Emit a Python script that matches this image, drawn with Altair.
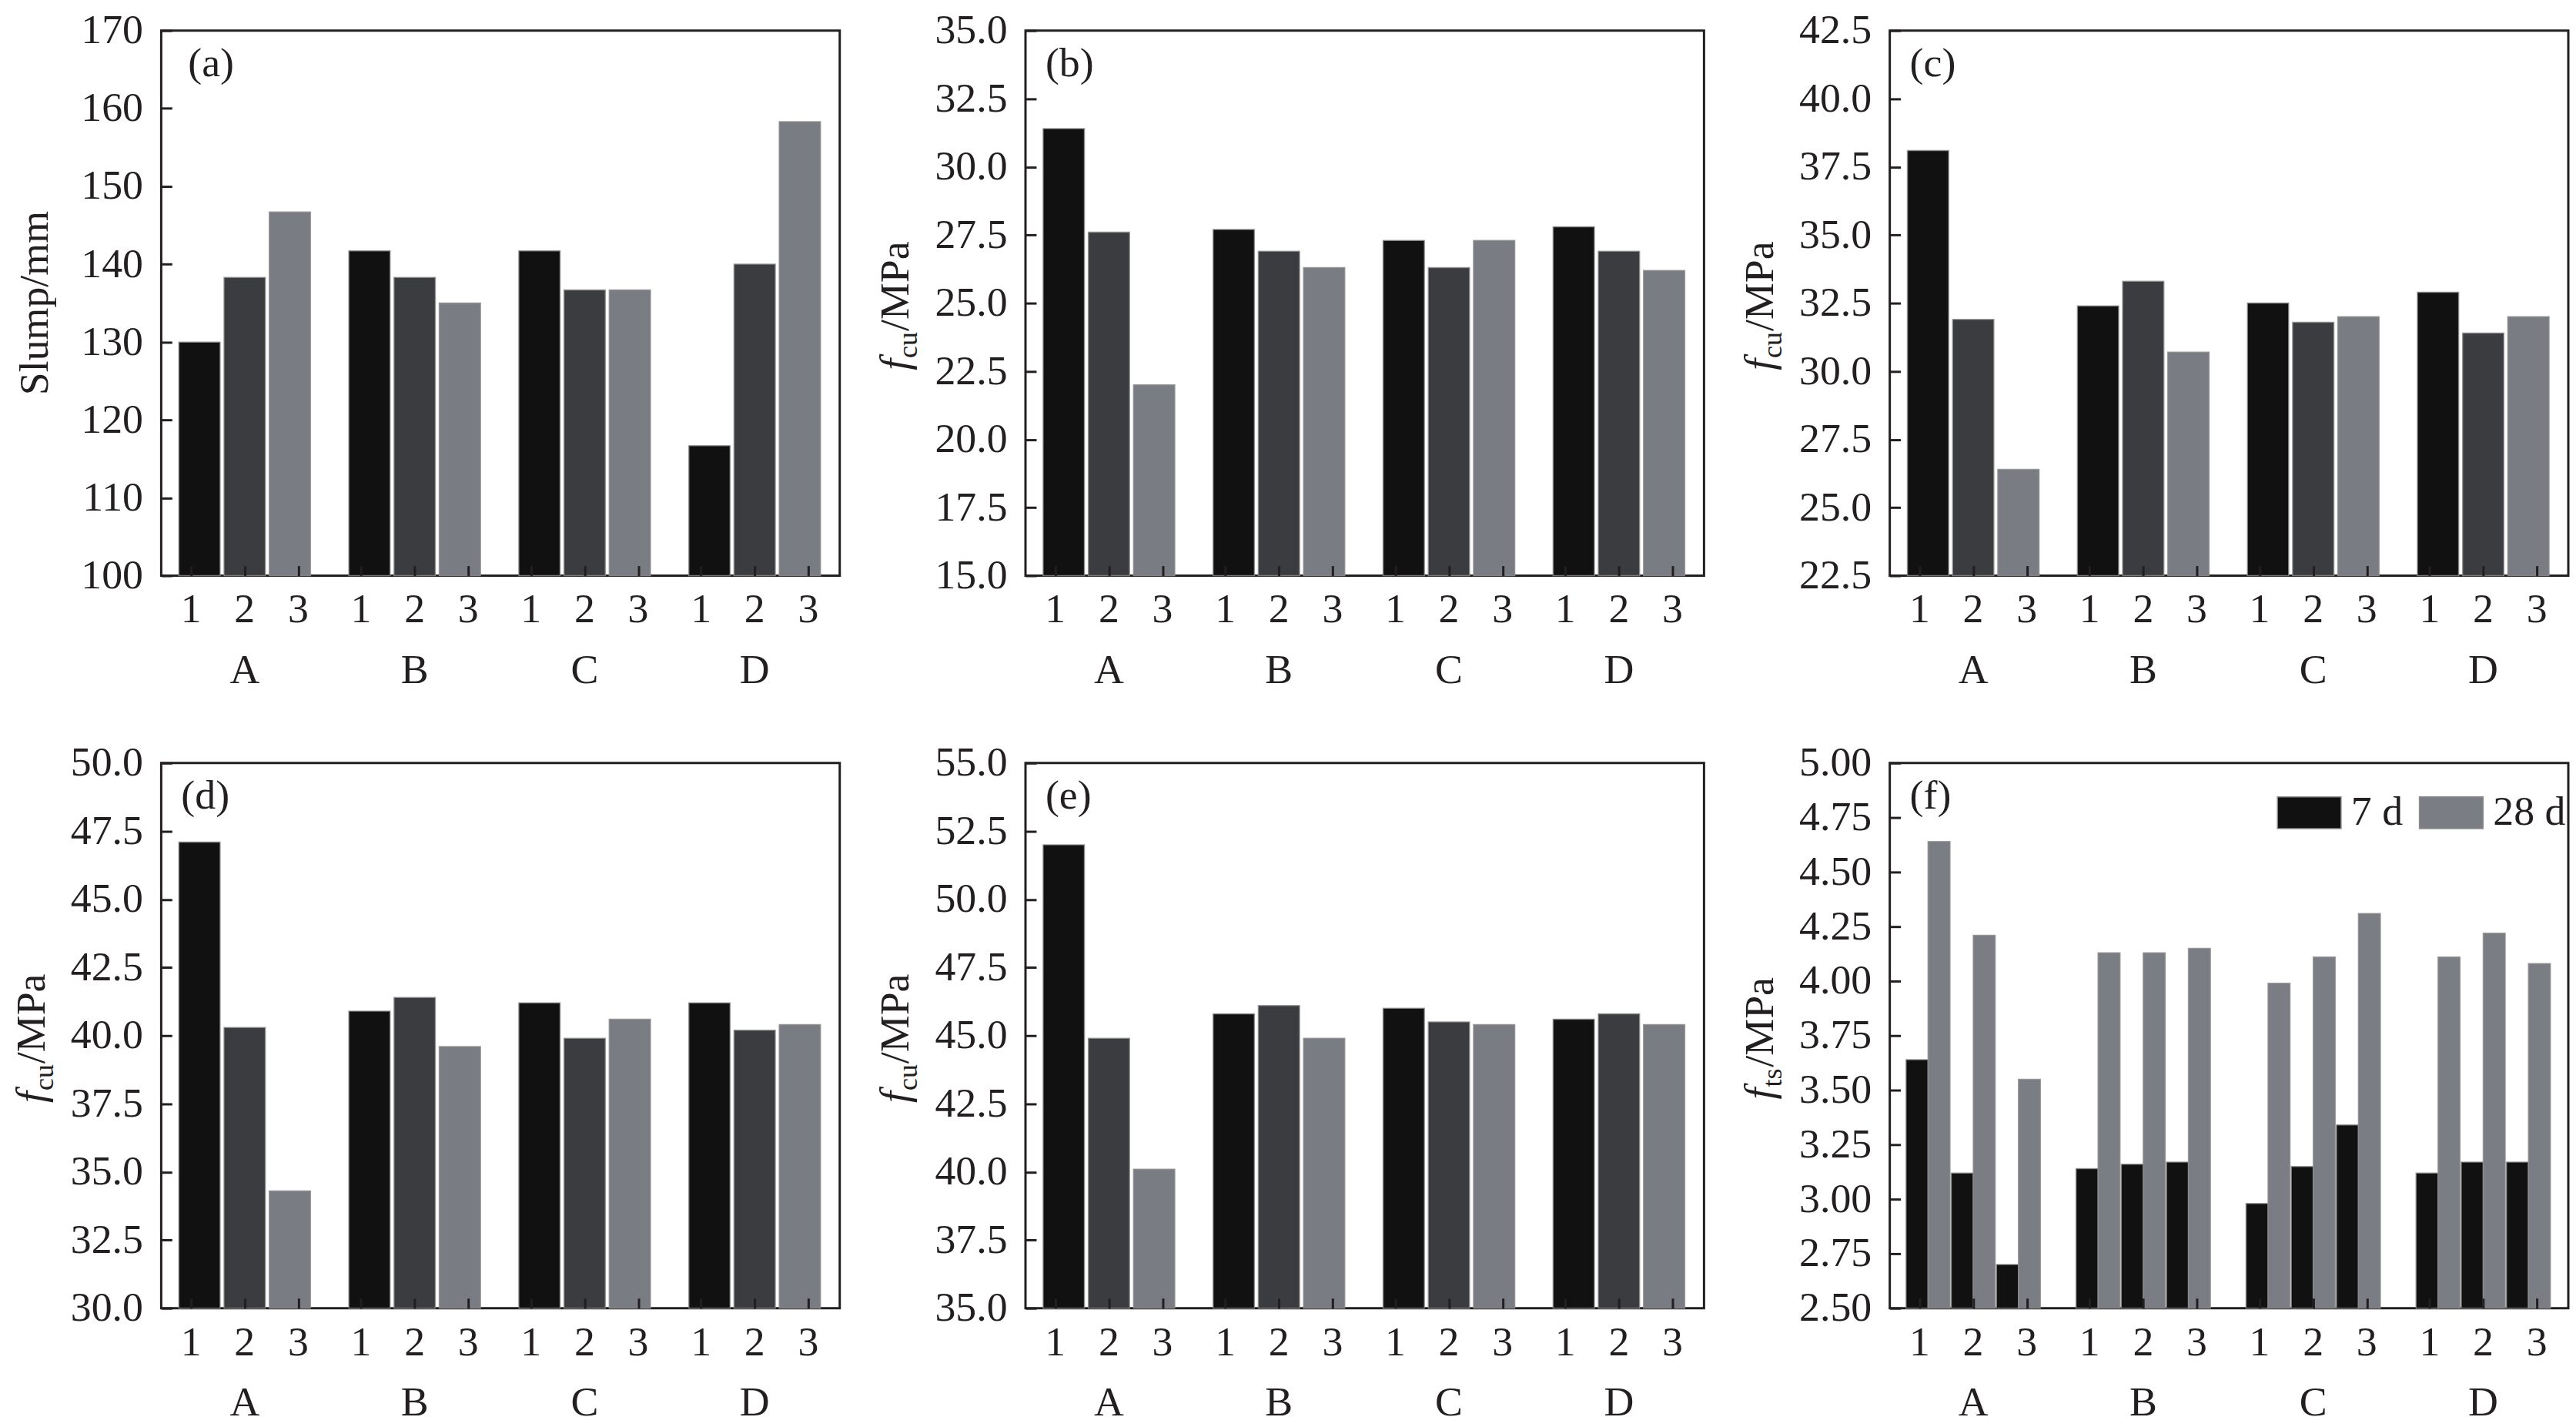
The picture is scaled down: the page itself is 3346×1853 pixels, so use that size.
import altair as alt
import pandas as pd

# ---------------- data ----------------
GROUPS = ["A", "B", "C", "D"]
LEVELS = ["1", "2", "3"]
SERIES = ["7 d", "28 d"]

SLUMP = [130.0, 138.3, 146.7, 141.7, 138.3, 135.0, 141.7, 136.7, 136.7, 116.7, 140.0, 158.3]
FCU_B = [31.4, 27.6, 22.0, 27.7, 26.9, 26.3, 27.3, 26.3, 27.3, 27.8, 26.9, 26.2]
FCU_C = [38.1, 31.9, 26.4, 32.4, 33.3, 30.7, 32.5, 31.8, 32.0, 32.9, 31.4, 32.0]
FCU_D = [47.1, 40.3, 34.3, 40.9, 41.4, 39.6, 41.2, 39.9, 40.6, 41.2, 40.2, 40.4]
FCU_E = [52.0, 44.9, 40.1, 45.8, 46.1, 44.9, 46.0, 45.5, 45.4, 45.6, 45.8, 45.4]
FTS_7 = [3.64, 3.12, 2.70, 3.14, 3.16, 3.17, 2.98, 3.15, 3.34, 3.12, 3.17, 3.17]
FTS_28 = [4.64, 4.21, 3.55, 4.13, 4.13, 4.15, 3.99, 4.11, 4.31, 4.11, 4.22, 4.08]

TICKS_A = [100, 110, 120, 130, 140, 150, 160, 170]
TICKS_B = [15.0, 17.5, 20.0, 22.5, 25.0, 27.5, 30.0, 32.5, 35.0]
TICKS_C = [22.5, 25.0, 27.5, 30.0, 32.5, 35.0, 37.5, 40.0, 42.5]
TICKS_D = [30.0, 32.5, 35.0, 37.5, 40.0, 42.5, 45.0, 47.5, 50.0]
TICKS_E = [35.0, 37.5, 40.0, 42.5, 45.0, 47.5, 50.0, 52.5, 55.0]
TICKS_F = [2.50, 2.75, 3.00, 3.25, 3.50, 3.75, 4.00, 4.25, 4.50, 4.75, 5.00]

# ---------------- style / layout ----------------
FONT = "Liberation Serif"
INK = "#231f20"
BAR3 = ["#111111", "#3b3c40", "#7a7c83"]
BAR2 = ["#111111", "#7b7d84"]
EDGE = "#8c8c8c"
W, H = 884, 710
FS = 54

FIRST, GSTEP, XMAX = 0.557, 3.171, 12.657   # tick layout in slot units
BSTEP, BW, PW = 0.843, 0.77, 0.41           # bar spacing / widths


def tick_pos(g, s):
    return FIRST + g * GSTEP + s


def bar_center(g, s):
    return FIRST + g * GSTEP + 1 + (s - 1) * BSTEP


XSCALE = alt.Scale(domain=[0, XMAX], nice=False, zero=False)
TICKVALS = [tick_pos(g, s) for g in range(4) for s in range(3)]
XAXIS = alt.Axis(values=TICKVALS, labels=False, domain=False, grid=False,
                 ticks=True, tickSize=13, tickWidth=3, tickColor=INK,
                 offset=-13, title=None, zindex=1)


def text_layer(df, y, size=FS):
    return alt.Chart(df).mark_text(font=FONT, fontSize=size, color=INK,
                                   baseline="alphabetic", align="center").encode(
        x=alt.X("pos:Q", scale=XSCALE, axis=XAXIS),
        y=alt.value(y),
        text="lab:N",
    )


def panel(ymin, ymax, yticks, fmt, letter, letter_x, title, sub=None,
          vals=None, v7=None, v28=None):
    yscale = alt.Scale(domain=[ymin, ymax], nice=False, zero=False)
    yaxis = alt.Axis(values=yticks, format=fmt, grid=False, domain=False,
                     tickSize=14, tickWidth=3, tickColor=INK, offset=-14,
                     labelFont=FONT, labelFontSize=FS, labelColor=INK,
                     labelPadding=24, labelOverlap=False, labelFlush=False,
                     title=None, zindex=1)
    rows = []
    if vals is not None:
        for g in range(4):
            for s in range(3):
                c = bar_center(g, s)
                rows.append({"x0": c - BW / 2, "x1": c + BW / 2,
                             "value": vals[g * 3 + s], "base": ymin,
                             "series": LEVELS[s]})
        color = alt.Color("series:N", scale=alt.Scale(domain=LEVELS, range=BAR3),
                          legend=None)
    else:
        for g in range(4):
            for s in range(3):
                c = bar_center(g, s)
                for k, arr in enumerate([v7, v28]):
                    x0 = c - PW + k * PW
                    rows.append({"x0": x0, "x1": x0 + PW,
                                 "value": arr[g * 3 + s], "base": ymin,
                                 "series": SERIES[k]})
        color = alt.Color(
            "series:N", scale=alt.Scale(domain=SERIES, range=BAR2),
            legend=alt.Legend(orient="none", legendX=504, legendY=22,
                              direction="horizontal", title=None,
                              symbolType="M-1,-0.5H1V0.5H-1Z", symbolSize=6889,
                              symbolStrokeColor=EDGE, symbolStrokeWidth=1.5,
                              symbolOpacity=1, labelFont=FONT, labelFontSize=FS,
                              labelColor=INK, labelOffset=12, columnPadding=18,
                              padding=0))
    bars = alt.Chart(pd.DataFrame(rows)).mark_bar(
        stroke=EDGE, strokeWidth=1.5, strokeOpacity=0.8).encode(
        x=alt.X("x0:Q", scale=XSCALE, axis=XAXIS),
        x2="x1:Q",
        y=alt.Y("value:Q", scale=yscale, axis=yaxis),
        y2="base:Q",
        color=color,
    )

    lev = pd.DataFrame({"pos": TICKVALS,
                        "lab": [LEVELS[s] for g in range(4) for s in range(3)]})
    grp = pd.DataFrame({"pos": [tick_pos(g, 1) for g in range(4)], "lab": GROUPS})
    layers = [bars, text_layer(lev, H + 61), text_layer(grp, H + 140)]

    one = pd.DataFrame({"t": [letter]})
    layers.append(alt.Chart(one).mark_text(
        font=FONT, fontSize=FS, color=INK, align="left", baseline="alphabetic").encode(
        x=alt.value(letter_x), y=alt.value(59), text="t:N"))

    tdf = pd.DataFrame({"t": [0]})
    if sub is None:
        layers.append(alt.Chart(tdf).mark_text(
            text=title, font=FONT, fontSize=FS, color=INK, angle=270,
            align="center", baseline="alphabetic").encode(
            x=alt.value(-148), y=alt.value(H / 2)))
    else:
        sub_len = 34 if sub == "cu" else 25
        y0 = H / 2 + (16 + sub_len + 117) / 2 + 4
        layers.append(alt.Chart(tdf).mark_text(
            text="f", font=FONT, fontSize=FS, fontStyle="italic", color=INK,
            angle=270, align="left", baseline="alphabetic").encode(
            x=alt.value(-152), y=alt.value(y0)))
        layers.append(alt.Chart(tdf).mark_text(
            text=sub, font=FONT, fontSize=36, color=INK,
            angle=270, align="left", baseline="alphabetic").encode(
            x=alt.value(-141), y=alt.value(y0 - 16)))
        layers.append(alt.Chart(tdf).mark_text(
            text=title, font=FONT, fontSize=FS, color=INK,
            angle=270, align="left", baseline="alphabetic").encode(
            x=alt.value(-152), y=alt.value(y0 - 17 - sub_len)))

    return alt.layer(*layers).properties(width=W, height=H)


pa = panel(100, 170, TICKS_A, "d", "(a)", 35, "Slump/mm", vals=SLUMP)
pb = panel(15, 35, TICKS_B, ".1f", "(b)", 26, "/MPa", sub="cu", vals=FCU_B)
pc = panel(22.5, 42.5, TICKS_C, ".1f", "(c)", 26, "/MPa", sub="cu", vals=FCU_C)
pd_ = panel(30, 50, TICKS_D, ".1f", "(d)", 26, "/MPa", sub="cu", vals=FCU_D)
pe = panel(35, 55, TICKS_E, ".1f", "(e)", 26, "/MPa", sub="cu", vals=FCU_E)
pf = panel(2.5, 5.0, TICKS_F, ".2f", "(f)", 26, "/MPa", sub="ts", v7=FTS_7, v28=FTS_28)

chart = alt.concat(pa, pb, pc, pd_, pe, pf, columns=3,
                   spacing={"row": 244, "column": 242}, bounds="flush").resolve_scale(
    color="independent").resolve_legend(color="independent").properties(
    padding={"left": 5, "top": 0, "right": 0, "bottom": 0}, background="white"
).configure_view(stroke=INK, strokeWidth=3)

chart.save("out.html", embed_options={"renderer": "svg", "actions": False})
